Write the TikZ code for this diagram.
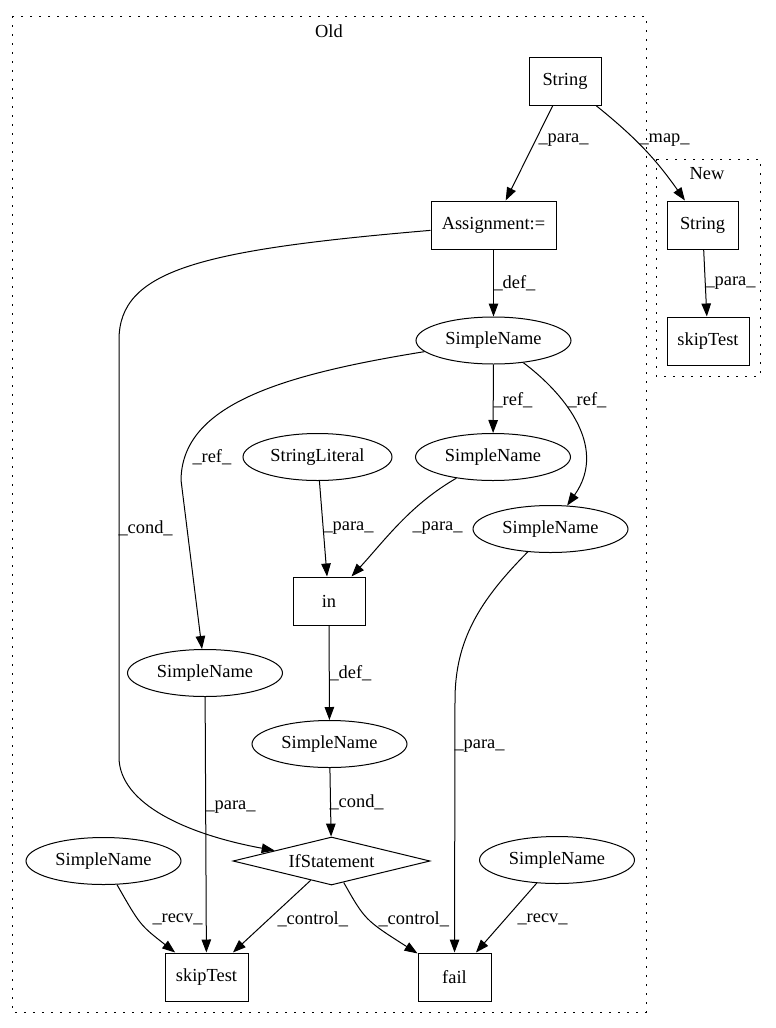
\documentclass[tikz,border=0pt]{standalone}
\usepackage{fontspec}
\setmainfont{Liberation Serif}
\usepackage{tikz}
\usetikzlibrary{arrows.meta,arrows}
\usetikzlibrary{shapes.geometric}

\newcommand{\gvfont}{\fontsize{18.4}{22}\selectfont}

\begin{document}
\begin{tikzpicture}[x=1pt,y=-1pt,line width=1pt,
    lbl/.style={anchor=west,inner sep=0pt,font=\gvfont},
    cluster/.style={dash pattern=on 1.6pt off 7.4pt}]

        \useasboundingbox (0,0) rectangle (776,1028);

        % clusters
        \draw[cluster] (12,16) rectangle (646,1012);
        \draw[cluster] (656,159) rectangle (760,376);
        \node[font=\gvfont] (Old) at (329,31) {Old};
        \node[font=\gvfont] (New) at (707,174) {New};

        \begin{scope}[every node/.style={rectangle,draw,inner sep=0pt,minimum height=48pt,font=\gvfont}]
            \node[minimum width=72pt] (Str) at (565,81) {String};
            \node[minimum width=125pt] (Asg) at (493.5,225) {Assignment:=};
            \node[minimum width=71pt] (NStr) at (702.5,225) {String};
            \node[minimum width=82pt] (NSkip) at (708,341) {skipTest};
            \node[minimum width=72pt] (In) at (329,601) {in};
            \node[minimum width=83pt] (Skip) at (206.5,977) {skipTest};
            \node[minimum width=73pt] (Fail) at (454.5,977) {fail};
        \end{scope}

        \begin{scope}[every node/.style={ellipse,draw,inner sep=0pt,minimum width=155pt,minimum height=47pt,font=\gvfont}]
            \node (SN0) at (493.5,340.5) {SimpleName};
            \node[minimum width=149pt] (Lit) at (317.5,457) {StringLiteral};
            \node (SN1) at (493,457) {SimpleName};
            \node (SN2) at (550.5,529) {SimpleName};
            \node (SN3) at (205,673) {SimpleName};
            \node (SN4) at (329.5,744) {SimpleName};
            \node (SN5) at (103.5,861) {SimpleName};
            \node (SN6) at (557,860) {SimpleName};
        \end{scope}

        \node[diamond,draw,aspect=4.1,inner sep=0pt,minimum width=197pt,minimum height=48pt,font=\gvfont] (If) at (331.5,861) {IfStatement};

        \begin{scope}[>={Triangle[length=13pt,width=9.5pt]}]
            \path [->] (Str) edge (Asg);
            \path [->] (Str) edge[bend left=8] (NStr);
            \path [->] (NStr) edge (NSkip);
            \path [->] (Asg) edge (SN0);
            \draw [->] (Asg) .. controls (200,250) and (119,270) .. (119,340) -- (119,757)
                .. controls (119,805) and (190,835) .. (If);
            \path [->] (SN0) edge (SN1);
            \draw [->] (SN0) .. controls (560,390) and (610,445) .. (SN2);
            \draw [->] (SN0) .. controls (280,375) and (182,405) .. (181,480) -- (SN3);
            \path [->] (Lit) edge (In);
            \draw [->] (SN1) .. controls (410,505) and (385,540) .. (In);
            \draw [->] (SN2) .. controls (480,600) and (455,640) .. (455,700) -- (Fail);
            \path [->] (In) edge (SN4);
            \path [->] (SN4) edge (If);
            \path [->] (SN3) edge (Skip);
            \draw [->] (SN5) .. controls (140,925) .. (Skip);
            \path [->] (If) edge (Skip);
            \draw [->] (If) .. controls (365,920) .. (Fail);
            \path [->] (SN6) edge (Fail);
        \end{scope}

        % edge labels
        \node[lbl] (L1) at (538,140) {\_para\_};
        \node[lbl] (L2) at (639,140) {\_map\_};
        \node[lbl] (L3) at (705,283) {\_para\_};
        \node[lbl] (L4) at (493,283) {\_def\_};
        \node[lbl] (L5) at (493,400) {\_ref\_};
        \node[lbl] (L6) at (567,400) {\_ref\_};
        \node[lbl] (L7) at (192,457) {\_ref\_};
        \node[lbl] (L8) at (118,528) {\_cond\_};
        \node[lbl] (L9) at (323,528) {\_para\_};
        \node[lbl] (L10) at (412,528) {\_para\_};
        \node[lbl] (L11) at (329,673) {\_def\_};
        \node[lbl] (L12) at (329,802) {\_cond\_};
        \node[lbl] (L13) at (205,807) {\_para\_};
        \node[lbl] (L14) at (454,746) {\_para\_};
        \node[lbl] (L15) at (152,919) {\_recv\_};
        \node[lbl] (L16) at (277,919) {\_control\_};
        \node[lbl] (L17) at (378,919) {\_control\_};
        \node[lbl] (L18) at (517,919) {\_recv\_};

    \end{tikzpicture}
\end{document}
